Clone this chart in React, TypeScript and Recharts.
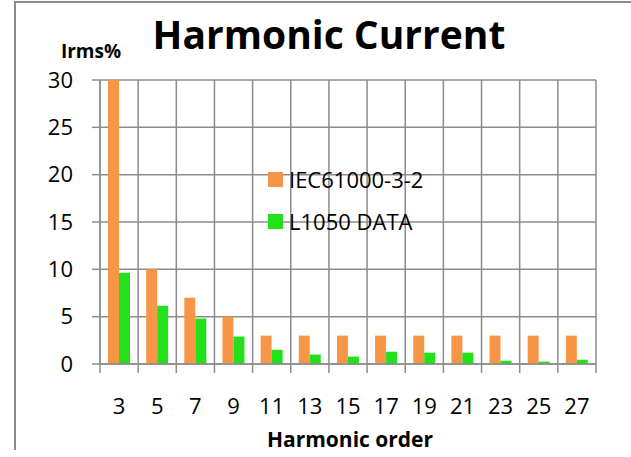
import React from 'react';
import { BarChart, Bar, XAxis, YAxis, CartesianGrid } from 'recharts';

const categories = ['3', '5', '7', '9', '11', '13', '15', '17', '19', '21', '23', '25', '27'];
const iecLimit = [30, 10, 7, 5, 3, 3, 3, 3, 3, 3, 3, 3, 3];
const l1050Data = [9.65, 6.15, 4.8, 2.9, 1.5, 1.0, 0.78, 1.3, 1.2, 1.2, 0.35, 0.25, 0.45];
const yTicks = [0, 5, 10, 15, 20, 25, 30];

const data = categories.map((order, i) => ({ order, iec: iecLimit[i], l1050: l1050Data[i] }));

const FONT = '"Open Sans", sans-serif';
const GRID = '#8c8c8c';
const ORANGE = '#f79646';
const GREEN = '#22e01a';

const W = 631;
const H = 457;
const MARGIN = { top: 80, right: 35, left: 0, bottom: 0 };
const Y_AXIS_W = 100;
const X_AXIS_H = 93;
const PLOT_W = W - MARGIN.right - Y_AXIS_W;
const BAND = PLOT_W / categories.length;

const XTick = ({ x, y, payload, index }: any) => {
  const half = BAND / 2;
  return (
    <g>
      <line x1={x - half} x2={x - half} y1={y} y2={y + 9} stroke={GRID} strokeWidth={1.5} />
      {index === categories.length - 1 && (
        <line x1={x + half} x2={x + half} y1={y} y2={y + 9} stroke={GRID} strokeWidth={1.5} />
      )}
      <text x={x} y={y + 34} dy="0.71em" textAnchor="middle" fill="#000" fontSize={22} fontFamily={FONT}>
        {payload.value}
      </text>
    </g>
  );
};

export default function App() {
  const legendItems = [
    { name: 'IEC61000-3-2', color: ORANGE },
    { name: 'L1050 DATA', color: GREEN },
  ];

  return (
    <div style={{ position: 'absolute', left: 0, top: 0, width: W, height: H, background: '#fff', fontFamily: FONT }}>
      <div
        style={{
          position: 'absolute', left: 14, top: 1, width: W - 14, height: 449,
          borderTop: `2px solid ${GRID}`, borderLeft: `2px solid ${GRID}`, boxSizing: 'border-box',
        }}
      />
      <BarChart width={W} height={H} data={data} margin={MARGIN} barCategoryGap={8} barGap={0}>
        <CartesianGrid
          stroke={GRID}
          strokeWidth={1.5}
          verticalCoordinatesGenerator={({ offset }: any) =>
            Array.from({ length: categories.length + 1 }, (_, i) => offset.left + (i * offset.width) / categories.length)
          }
        />
        <XAxis
          dataKey="order"
          height={X_AXIS_H}
          interval={0}
          tickSize={0}
          tickMargin={0}
          tick={<XTick />}
          axisLine={{ stroke: GRID, strokeWidth: 1.5 }}
        />
        <YAxis
          width={Y_AXIS_W}
          domain={[0, 30]}
          ticks={yTicks}
          interval={0}
          tickSize={8}
          tickMargin={19}
          tickLine={{ stroke: GRID, strokeWidth: 1.5 }}
          axisLine={{ stroke: GRID, strokeWidth: 1.5 }}
          tick={{ fill: '#000', fontSize: 22, fontFamily: FONT }}
        />
        <Bar dataKey="iec" name="IEC61000-3-2" fill={ORANGE} isAnimationActive={false} />
        <Bar dataKey="l1050" name="L1050 DATA" fill={GREEN} isAnimationActive={false} />
      </BarChart>

      <svg width={W} height={H} style={{ position: 'absolute', left: 0, top: 0, pointerEvents: 'none' }}>
        <text x={329} y={49} textAnchor="middle" fontSize={39} fontWeight="bold" fontFamily={FONT} fill="#000">
          Harmonic Current
        </text>
        <text x={91} y={58} textAnchor="middle" fontSize={19} fontWeight="bold" fontFamily={FONT} fill="#000">
          Irms%
        </text>
        <text x={350} y={447} textAnchor="middle" fontSize={21} fontWeight="bold" fontFamily={FONT} fill="#000">
          Harmonic order
        </text>
      </svg>

      <div style={{ position: 'absolute', left: 268, top: 165 }}>
        {legendItems.map((item) => (
          <div key={item.name} style={{ display: 'flex', alignItems: 'center', height: 29, marginBottom: 13 }}>
            <div style={{ width: 15, height: 15, background: item.color, marginRight: 6 }} />
            <span style={{ fontSize: 22, color: '#000', lineHeight: '29px' }}>{item.name}</span>
          </div>
        ))}
      </div>
    </div>
  );
}
